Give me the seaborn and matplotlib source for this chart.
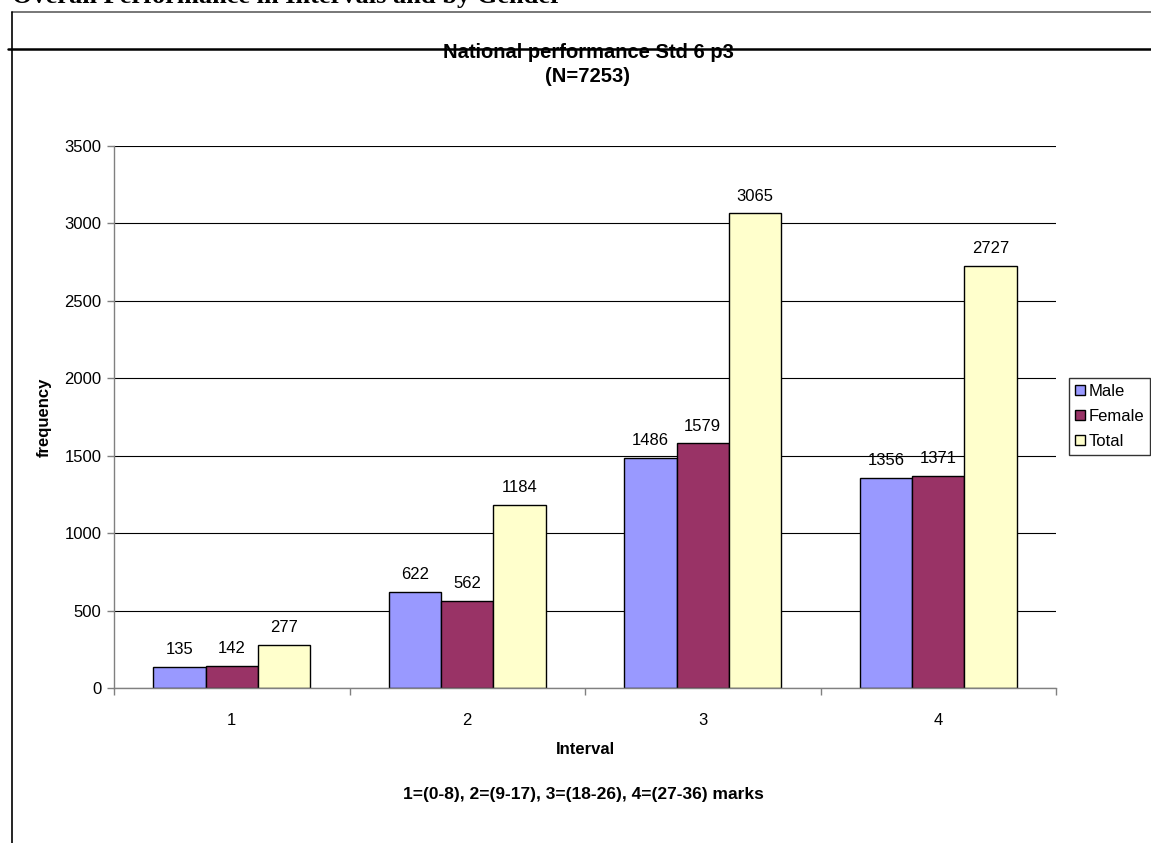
import matplotlib
matplotlib.use("Agg")
import matplotlib.pyplot as plt
import seaborn as sns
import pandas as pd
from matplotlib.lines import Line2D

intervals = ["1", "2", "3", "4"]
male = [135, 622, 1486, 1356]
female = [142, 562, 1579, 1371]
total = [277, 1184, 3065, 2727]
series_names = ["Male", "Female", "Total"]
series_colors = ["#9999FF", "#993366", "#FFFFCC"]

rows = []
for name, vals in zip(series_names, [male, female, total]):
    for iv, v in zip(intervals, vals):
        rows.append({"Interval": iv, "series": name, "frequency": v})
df = pd.DataFrame(rows)

sns.set_theme(style="white")
plt.rcParams["font.family"] = ["Liberation Sans", "DejaVu Sans"]
plt.rcParams["text.color"] = "black"
plt.rcParams["axes.labelcolor"] = "black"
plt.rcParams["xtick.color"] = "black"
plt.rcParams["ytick.color"] = "black"

fig = plt.figure(figsize=(11.51, 8.43), dpi=100)
W, H = 1151, 843
ax = fig.add_axes([114 / W, 1 - 688 / H, (1056 - 114) / W, (688 - 146) / H])

sns.barplot(data=df, x="Interval", y="frequency", hue="series",
            hue_order=series_names, palette=series_colors, order=intervals,
            width=0.667, edgecolor="black", linewidth=1.0, saturation=1,
            ax=ax, legend=True, errorbar=None)

ax.set_ylim(0, 3500)
ax.set_xlim(-0.5, 3.5)
ax.set_yticks(range(0, 3501, 500))
ax.yaxis.grid(True, color="black", linewidth=0.8)
ax.set_axisbelow(True)
for s in ["top", "right"]:
    ax.spines[s].set_visible(False)
for s in ["left", "bottom"]:
    ax.spines[s].set_color("#808080")
    ax.spines[s].set_linewidth(1.0)

ax.tick_params(axis="y", which="major", left=True, length=5, width=1,
               color="#808080", labelsize=12, pad=4, labelcolor="black")
ax.set_xticks(range(4))
ax.set_xticklabels(intervals)
ax.tick_params(axis="x", which="major", bottom=False, labelsize=12, pad=12,
               labelcolor="black")
ax.set_xticks([-0.5, 0.5, 1.5, 2.5, 3.5], minor=True)
ax.tick_params(axis="x", which="minor", bottom=True, length=5, width=1,
               color="#808080")

for container in ax.containers:
    ax.bar_label(container, fmt="%d", padding=7, fontsize=12, color="black")

ax.set_xlabel("Interval", fontsize=12, fontweight="bold", labelpad=10)
ax.set_ylabel("frequency", fontsize=12, fontweight="bold", labelpad=9)

leg = ax.legend(loc="upper left", bbox_to_anchor=(1069 / W, 1 - 378 / H),
                bbox_transform=fig.transFigure, frameon=True, fancybox=False,
                fontsize=12, handlelength=0.6, handleheight=0.6,
                handletextpad=0.25, borderpad=0.35, labelspacing=0.6,
                borderaxespad=0)
leg.get_frame().set_edgecolor("black")
leg.get_frame().set_linewidth(1.0)
for p in leg.get_patches():
    p.set_edgecolor("black")
    p.set_linewidth(1.0)

fig.text(588 / W, 1 - 53 / H, "National performance Std 6 p3",
         ha="center", va="center", fontsize=14.5, fontweight="bold")
fig.text(588 / W, 1 - 76 / H, "(N=7253)",
         ha="center", va="center", fontsize=14.5, fontweight="bold")
fig.text(583 / W, 1 - 795 / H,
         "1=(0-8), 2=(9-17), 3=(18-26), 4=(27-36) marks",
         ha="center", va="center", fontsize=12.5, fontweight="bold")

fig.text(12 / W, 1 - 3 / H, "Overall Performance in Intervals and by Gender",
         ha="left", va="baseline", fontsize=19, fontweight="bold",
         family=["Liberation Serif", "DejaVu Serif"])

fig.add_artist(Line2D([12 / W, 1], [1 - 12 / H, 1 - 12 / H],
                      transform=fig.transFigure, color="#606060", linewidth=1.2))
fig.add_artist(Line2D([8 / W, 1], [1 - 49 / H, 1 - 49 / H],
                      transform=fig.transFigure, color="black", linewidth=1.8))
fig.add_artist(Line2D([12 / W, 12 / W], [0, 1 - 12 / H],
                      transform=fig.transFigure, color="black", linewidth=1.2))

fig.savefig("out.png", dpi=100)
